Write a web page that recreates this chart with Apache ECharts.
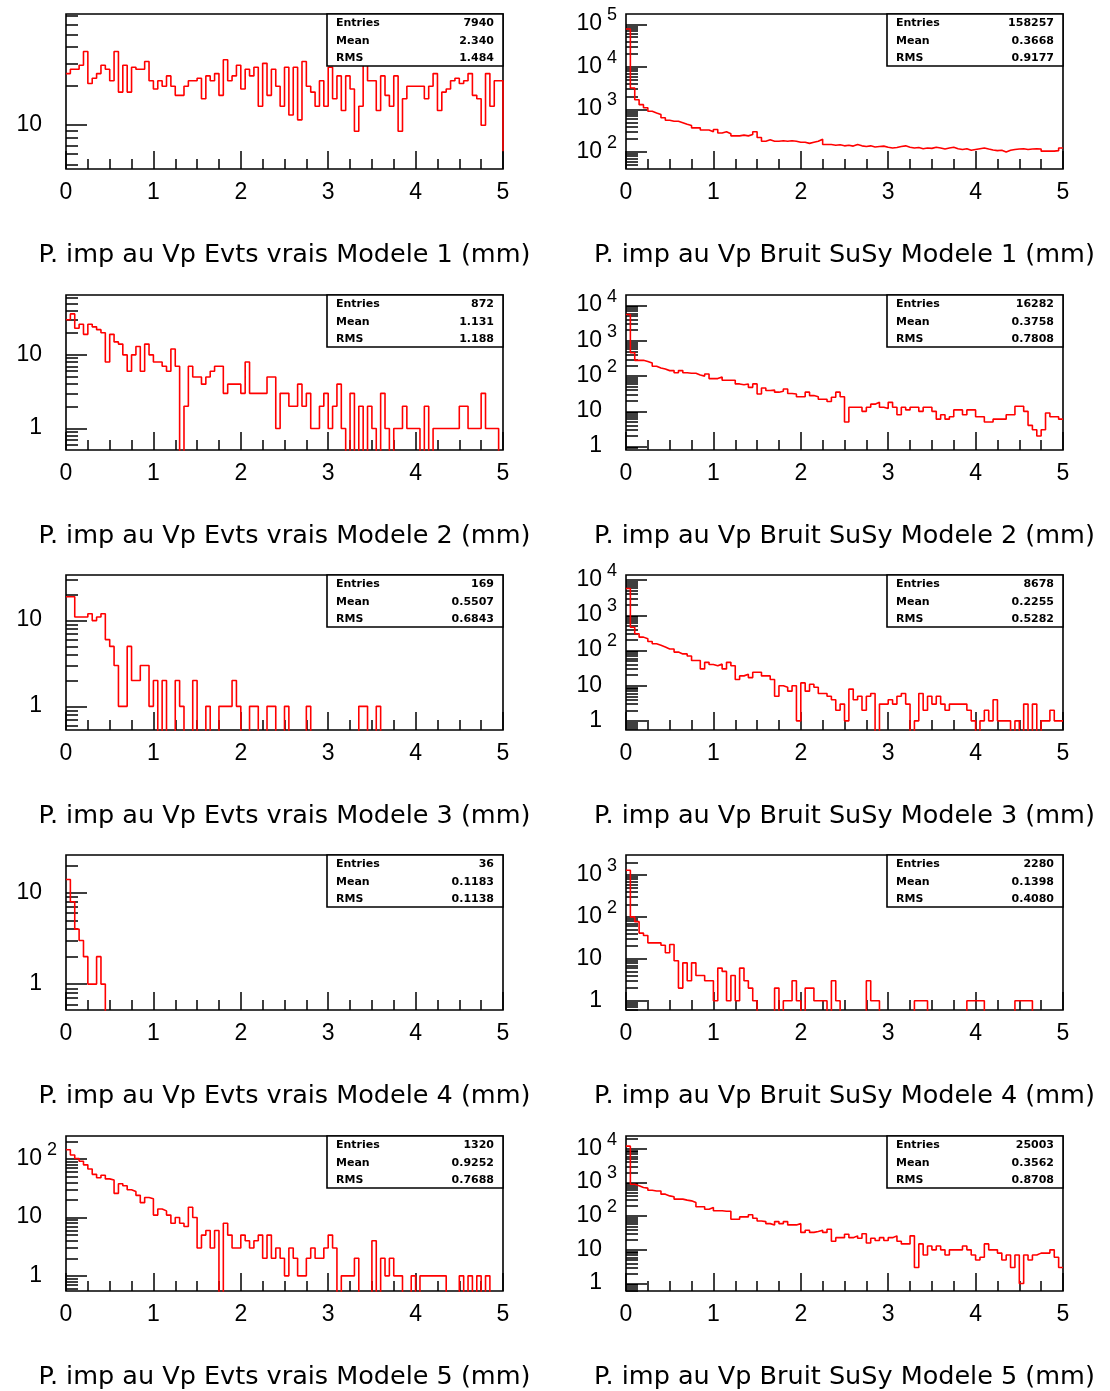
<!DOCTYPE html>
<html><head><meta charset="utf-8">
<script src="https://cdn.jsdelivr.net/npm/echarts@6/dist/echarts.min.js"></script>
<style>html,body{margin:0;padding:0;background:#fff}#c{width:1110px;height:1391px}</style>
</head><body><div id="c"></div>
<script>
// ---------- data ----------
const BIN_W = 0.05; // 100 bins from 0 to 5 mm

const titlesLeft = [
  'P. imp au Vp Evts vrais Modele 1 (mm)',
  'P. imp au Vp Evts vrais Modele 2 (mm)',
  'P. imp au Vp Evts vrais Modele 3 (mm)',
  'P. imp au Vp Evts vrais Modele 4 (mm)',
  'P. imp au Vp Evts vrais Modele 5 (mm)'
];
const titlesRight = [
  'P. imp au Vp Bruit SuSy Modele 1 (mm)',
  'P. imp au Vp Bruit SuSy Modele 2 (mm)',
  'P. imp au Vp Bruit SuSy Modele 3 (mm)',
  'P. imp au Vp Bruit SuSy Modele 4 (mm)',
  'P. imp au Vp Bruit SuSy Modele 5 (mm)'
];

const l1 = [25,27,27,29,37,21,23,25,29,27, 22,37,18,29,18,28,27,27,31,22,
  19,22,20,24,20,17,17,20,22,22, 23,16,24,22,25,17,32,22,24,29,
  19,27,24,28,14,30,17,27,20,14, 28,12,28,11,31,20,18,14,22,14,
  28,16,24,13,24,19,9,14,29,22, 22,13,24,17,14,24,9,16,20,20,
  20,20,16,20,25,13,18,19,22,23, 21,22,25,17,16,10,25,14,22,22];
const l2 = [30,36,23,26,19,26,24,22,20,8, 19,15,14,10,6,10,13,6,14,10,
  8,8,7,6,12,7,0,2,7,5, 5,4,5,6,7,7,3,4,4,4,
  3,8,3,3,3,3,5,5,1,3, 3,2,2,4,2,3,1,1,2,3,
  1,2,4,1,0,3,0,2,0,2, 1,0,3,1,0,1,1,2,1,1,
  1,0,2,0,1,1,1,1,1,1, 2,2,1,1,1,3,1,1,1,0];
const l3 = [19,19,11,11,11,12,10,11,12,6, 5,3,1,1,5,2,2,3,3,1,
  2,0,2,0,0,2,1,0,0,2, 0,0,1,0,0,1,1,1,2,1,
  0,0,1,1,0,0,1,1,0,0, 1,0,0,0,0,1,0,0,0,0,
  0,0,0,0,0,0,0,1,1,0, 0,1,0,0,0,0,0,0,0,0,
  0,0,0,0,0,0,0,0,0,0, 0,0,0,0,0,0,0,0,0,0];
const l4 = [14,8,4,3,2,1,1,2,1,0, 0,0,0,0,0,0,0,0,0,0,
  0,0,0,0,0,0,0,0,0,0, 0,0,0,0,0,0,0,0,0,0,
  0,0,0,0,0,0,0,0,0,0, 0,0,0,0,0,0,0,0,0,0,
  0,0,0,0,0,0,0,0,0,0, 0,0,0,0,0,0,0,0,0,0,
  0,0,0,0,0,0,0,0,0,0, 0,0,0,0,0,0,0,0,0,0];
const l5 = [145,118,103,92,80,68,55,48,53,46, 44,26,38,35,30,28,24,18,22,21,
  11,14,13,11,8,10,8,7,15,10, 3,5,6,3,6,0,8,5,3,3,
  5,4,3,4,5,2,5,2,3,2, 1,3,2,1,1,2,3,2,2,3,
  5,3,0,1,1,1,2,0,0,0, 4,0,2,1,2,1,1,0,0,1,
  0,1,1,1,1,1,1,0,0,0, 1,0,1,0,1,0,1,0,0,0];

const r1 = [78000,3200,1700,1300,1100,910,830,760,640,560, 530,530,490,450,420,370,370,330,330,300,
  340,280,300,270,240,240,250,240,260,300, 220,180,195,180,180,185,180,185,180,170,
  170,160,170,180,200,150,150,145,148,140, 145,138,150,140,135,140,132,135,138,130,
  125,128,135,140,130,125,128,120,125,122, 130,125,118,125,130,120,115,120,110,115,
  120,125,118,112,108,110,100,110,115,118, 120,115,118,120,118,105,105,105,108,125];
const r2 = [5600,460,280,280,260,235,190,170,158,143, 143,125,143,125,120,120,107,100,115,85,
  85,95,76,76,76,60,57,60,48,60, 31,46,39,40,35,37,43,32,31,26,
  26,35,28,26,22,22,19,25,35,26, 5,13,13,13,10,13,16,18,13,12,
  18,13,8,13,11,13,13,10,13,13, 10,6,8,6,7,11,11,8,11,11,
  7,7,5,5,6,6,6,8,8,14, 14,10,4,3,2,3,9,7,7,6];
const r3 = [5800,460,300,240,215,180,155,140,125,110, 110,90,80,80,70,52,52,30,46,40,
  37,41,30,46,37,15,19,21,17,24, 24,19,19,15,5,10,9,7,10,1,
  12,7,11,9,6,6,5,4,2,3, 1,8,4,5,2,5,6,0,3,3,
  4,3,5,6,3,0,1,6,2,5, 3,5,3,2,3,3,3,3,2,1,
  0,1,2,1,4,1,1,1,0,1, 0,3,0,3,0,1,1,2,1,1];
const r4 = [1300,100,77,41,36,24,24,24,21,14, 22,9,2,8,3,8,4,4,3,3,
  1,6,5,1,4,1,6,3,2,1, 0,0,0,0,2,0,1,1,3,1,
  0,2,2,1,1,1,0,3,1,0, 0,0,0,0,0,3,1,1,0,0,
  0,0,0,0,0,0,1,1,1,0, 0,0,0,0,0,0,0,0,1,1,
  1,1,0,0,0,0,0,0,0,1, 1,1,1,0,0,0,0,0,0,0];
const r5 = [12000,890,800,710,680,590,560,560,450,400, 375,320,320,300,285,255,190,190,160,180,
  145,145,140,140,81,81,95,95,110,87, 72,69,60,55,69,60,69,55,55,60,
  33,38,33,35,38,33,41,18,23,23, 29,23,26,22,30,16,22,19,23,19,
  23,26,18,15,15,26,3,15,7,13, 10,13,10,7,10,10,10,13,10,7,
  5,6,15,10,10,8,5,7,3,7, 1,7,5,7,8,8,8,10,6,3];

// level the outline drops to at the right edge (null = no drop)
const endLeft = [6.3, null, null, null, null];
const endRight = [null, null, null, null, null];

// axis ranges (log y)
const yMinLeft = [4.6, 0.51, 0.53, 0.52, 0.55];
const yMaxLeft = [72, 65, 34, 26, 250];
const yMinRight = [40, 0.8, 0.55, 0.6, 0.6];
const yMaxRight = [175000, 20000, 14000, 3000, 24000];

// statistics boxes
const statEntriesLeft = ['7940', '872', '169', '36', '1320'];
const statMeanLeft = ['2.340', '1.131', '0.5507', '0.1183', '0.9252'];
const statRMSLeft = ['1.484', '1.188', '0.6843', '0.1138', '0.7688'];
const statEntriesRight = ['158257', '16282', '8678', '2280', '25003'];
const statMeanRight = ['0.3668', '0.3758', '0.2255', '0.1398', '0.3562'];
const statRMSRight = ['0.9177', '0.7808', '0.5282', '0.4080', '0.8708'];

// ---------- layout ----------
const colLeft = [66, 626];
const rowTop = [14, 295, 575, 855, 1136];
const GW = 437, GH = 155;
const BOX_W = 176, BOX_H = 52;

const leftData = [l1, l2, l3, l4, l5];
const rightData = [r1, r2, r3, r4, r5];

const panels = [];
for (let r = 0; r < 5; r++) {
  panels.push({col: 0, row: r, vals: leftData[r], end: endLeft[r], title: titlesLeft[r], ymin: yMinLeft[r], ymax: yMaxLeft[r],
    st: [statEntriesLeft[r], statMeanLeft[r], statRMSLeft[r]]});
  panels.push({col: 1, row: r, vals: rightData[r], end: endRight[r], title: titlesRight[r], ymin: yMinRight[r], ymax: yMaxRight[r],
    st: [statEntriesRight[r], statMeanRight[r], statRMSRight[r]]});
}

const grids = [], xAxes = [], yAxes = [], series = [], graphics = [];
const black = '#000';
const tickStyle = {color: black, width: 1.5};

panels.forEach((p, i) => {
  const gl = colLeft[p.col], gt = rowTop[p.row];
  grids.push({left: gl, top: gt, width: GW, height: GH, show: true, borderColor: black, borderWidth: 1.6, backgroundColor: 'transparent'});
  xAxes.push({
    gridIndex: i, type: 'value', min: 0, max: 5, interval: 1, position: 'bottom',
    name: p.title, nameLocation: 'middle', nameGap: 73,
    nameTextStyle: {fontFamily: 'DejaVu Sans', fontSize: 25.5, color: black},
    axisLine: {show: false, onZero: false},
    axisTick: {show: true, inside: true, length: 18, lineStyle: tickStyle},
    minorTick: {show: true, splitNumber: 4, length: 10, lineStyle: tickStyle},
    axisLabel: {fontFamily: 'Liberation Sans', fontSize: 23, color: black, margin: 12},
    splitLine: {show: false}, minorSplitLine: {show: false}
  });
  const lo = Math.log10(p.ymin), hi = Math.log10(p.ymax);
  const majors = [], minors = [];
  for (let d = Math.floor(lo); d <= Math.floor(hi); d++) {
    if (d >= lo && d <= hi) majors.push(d);
    for (let k = 2; k <= 9; k++) {
      const lv = Math.log10(k * Math.pow(10, d));
      if (lv > lo && lv < hi) minors.push(lv);
    }
  }
  // data axis (log)
  yAxes.push({gridIndex: i, type: 'log', logBase: 10, min: p.ymin, max: p.ymax, show: false, position: 'left',
    axisLine: {onZero: false}});
  // major ticks + labels
  yAxes.push({
    gridIndex: i, type: 'value', min: lo, max: hi, position: 'left',
    axisLine: {show: false, onZero: false}, splitLine: {show: false},
    axisTick: {show: true, inside: true, length: 21, customValues: majors, lineStyle: tickStyle},
    axisLabel: {
      show: true, customValues: majors, margin: 6,
      formatter: v => {
        const e = Math.round(v);
        if (e === 0) return '{b|1}{sp| }';
        if (e === 1) return '{b|10}{sp| }';
        return '{b|10}{s|' + e + '}';
      },
      rich: {
        b: {fontFamily: 'Liberation Sans', fontSize: 23, color: black, lineHeight: 26, padding: [0, 0, 2, 0], verticalAlign: 'bottom'},
        s: {fontFamily: 'Liberation Sans', fontSize: 18, color: black, lineHeight: 17, width: 16, align: 'left', padding: [0, 0, 13, 2], verticalAlign: 'bottom'},
        sp: {fontSize: 10, width: 18, lineHeight: 10, verticalAlign: 'bottom'}
      }
    }
  });
  // minor ticks
  yAxes.push({
    gridIndex: i, type: 'value', min: lo, max: hi, position: 'left',
    axisLine: {show: false, onZero: false}, splitLine: {show: false},
    axisTick: {show: true, inside: true, length: 12, customValues: minors, lineStyle: tickStyle},
    axisLabel: {show: false}
  });
  const floor = p.ymin / 1000;
  const pts = p.vals.map((v, k) => [Math.round(k * BIN_W * 100) / 100, v > 0 ? v : floor]);
  const last = p.vals[p.vals.length - 1];
  pts.push([5, last > 0 ? last : floor]);
  if (p.end !== null) pts.push([5, p.end]);
  series.push({
    type: 'line', xAxisIndex: i, yAxisIndex: 3 * i, data: pts, step: 'end',
    showSymbol: false, symbol: 'none', clip: true, silent: true, animation: false,
    lineStyle: {color: '#ff0000', width: 1.6}
  });
  // stats box
  const bx = gl + GW - BOX_W, by = gt;
  graphics.push({type: 'rect', z: 100, shape: {x: bx, y: by, width: BOX_W, height: BOX_H},
    style: {fill: '#fff', stroke: black, lineWidth: 1.6}});
  const names = ['Entries', 'Mean', 'RMS'];
  const dy = [9, 27, 44];
  names.forEach((n, j) => {
    graphics.push({type: 'text', z: 101, x: bx + 9, y: by + dy[j],
      style: {text: n, fill: black, font: 'bold 11px "DejaVu Sans"', textAlign: 'left', textVerticalAlign: 'middle', align: 'left', verticalAlign: 'middle'}});
    graphics.push({type: 'text', z: 101, x: bx + BOX_W - 9, y: by + dy[j],
      style: {text: p.st[j], fill: black, font: 'bold 11px "DejaVu Sans"', textAlign: 'right', textVerticalAlign: 'middle', align: 'right', verticalAlign: 'middle'}});
  });
});

const chart = echarts.init(document.getElementById('c'), null, {renderer: 'canvas'});
chart.setOption({
  animation: false,
  backgroundColor: '#fff',
  grid: grids, xAxis: xAxes, yAxis: yAxes, series: series,
  graphic: {elements: graphics}
});
</script>
</body></html>
